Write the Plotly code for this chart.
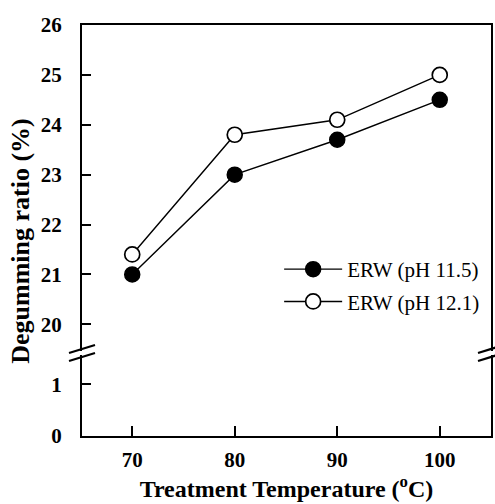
import plotly.graph_objects as go

temps = [70, 80, 90, 100]
erw_115 = [21.0, 23.0, 23.7, 24.5]
erw_121 = [21.4, 23.8, 24.1, 25.0]
upper_ticks = [20, 21, 22, 23, 24, 25, 26]
lower_ticks = [0, 1]
names = ["ERW (pH 11.5)", "ERW (pH 12.1)"]
x_title = "Treatment Temperature (<sup>o</sup>C)"
y_title = "Degumming ratio (%)"

FONT = "Liberation Serif, Times New Roman, serif"
LOW_DOM = [0, 0.196]
UP_DOM = [0.208, 1]

fig = go.Figure()
fig.add_trace(go.Scatter(
    x=temps, y=erw_115, xaxis="x2", yaxis="y2", mode="lines+markers", name=names[0],
    legendgroup="a",
    line=dict(color="black", width=1.4),
    marker=dict(symbol="circle", size=15, color="black", line=dict(color="black", width=1.5)),
))
fig.add_trace(go.Scatter(
    x=temps, y=erw_121, xaxis="x2", yaxis="y2", mode="lines+markers", name=names[1],
    legendgroup="b",
    line=dict(color="black", width=1.4),
    marker=dict(symbol="circle", size=15, color="white", line=dict(color="black", width=1.7)),
))
# empty trace so the lower subplot exists
fig.add_trace(go.Scatter(x=[], y=[], xaxis="x", yaxis="y", showlegend=False))

tickfont = dict(family=FONT, size=21, color="black", weight="bold")

fig.update_layout(
    width=495, height=504,
    margin=dict(l=82, r=2, t=25, b=68),
    paper_bgcolor="white", plot_bgcolor="white",
    showlegend=True,
    legend=dict(x=0.482, y=0.455, xanchor="left", yanchor="top",
                font=dict(family=FONT, size=21, color="black"),
                bgcolor="rgba(0,0,0,0)", itemwidth=58,
                traceorder="grouped", tracegroupgap=2),
    xaxis=dict(domain=[0, 1], anchor="y", range=[65.1, 105], tickvals=temps,
               ticks="inside", ticklen=10, tickwidth=1.5, tickcolor="black",
               showline=True, linewidth=2, linecolor="black", mirror=False,
               showgrid=False, zeroline=False, tickfont=tickfont, ticklabelstandoff=4,
               title=dict(text=x_title, standoff=9,
                          font=dict(family=FONT, size=24, color="black", weight="bold"))),
    xaxis2=dict(domain=[0, 1], anchor="y2", matches="x", side="top", showticklabels=False,
                ticks="", showline=True, linewidth=2, linecolor="black",
                showgrid=False, zeroline=False),
    yaxis=dict(domain=LOW_DOM, anchor="x", range=[0, 1.554], tickvals=lower_ticks,
               ticks="inside", ticklen=9, tickwidth=1.5, tickcolor="black",
               showline=True, linewidth=2, linecolor="black", mirror=True,
               showgrid=False, zeroline=False, tickfont=tickfont, ticklabelstandoff=14),
    yaxis2=dict(domain=UP_DOM, anchor="x2", range=[19.474, 26.0], tickvals=upper_ticks,
                ticks="inside", ticklen=9, tickwidth=1.5, tickcolor="black",
                showline=True, linewidth=2, linecolor="black", mirror=True,
                showgrid=False, zeroline=False, tickfont=tickfont, ticklabelstandoff=14),
    annotations=[dict(text=y_title, textangle=-90, xref="paper", yref="paper",
                      x=0, y=0.475, xshift=-61, xanchor="center", yanchor="middle",
                      showarrow=False,
                      font=dict(family=FONT, size=26, color="black", weight="bold"))],
)

# axis break marks (double slashes) on both spines
mid = (LOW_DOM[1] + UP_DOM[0]) / 2
shapes = []
for xa in (0, 1):
    for dy in (-4, 4):
        shapes.append(dict(type="line", xref="paper", yref="paper",
                           xsizemode="pixel", ysizemode="pixel",
                           xanchor=xa, yanchor=mid,
                           x0=-13, x1=13, y0=dy - 4, y1=dy + 4,
                           line=dict(color="black", width=2.2)))
fig.update_layout(shapes=shapes)

fig.write_html("out.html")
